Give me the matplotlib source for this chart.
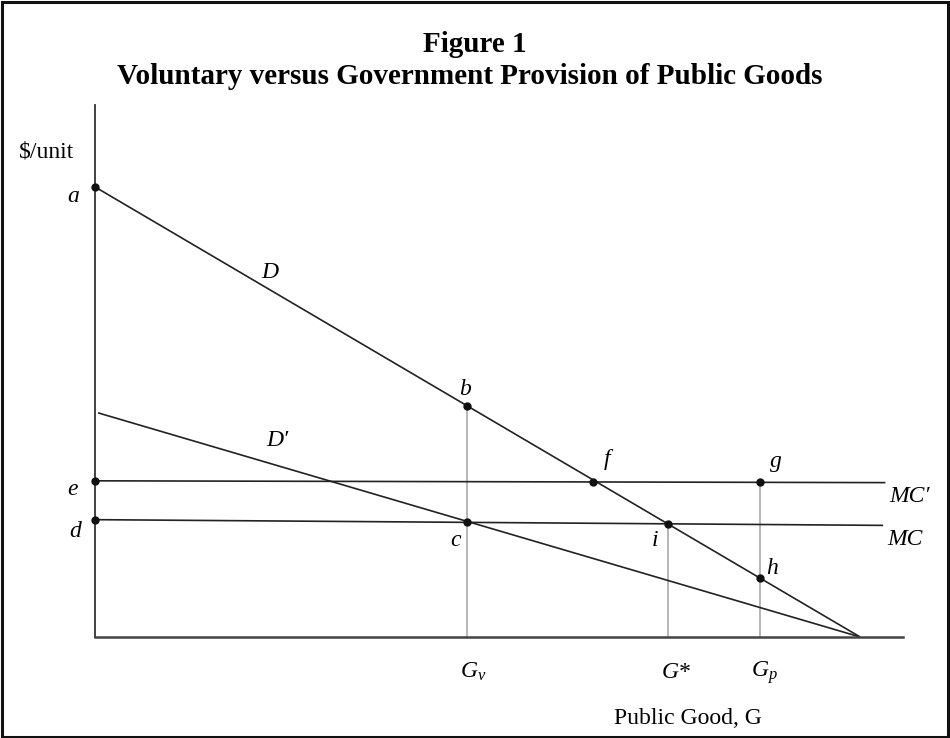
import matplotlib.pyplot as plt
import matplotlib.patches as mpatches
import numpy as np

plt.rcParams['font.family'] = ['Liberation Serif', 'DejaVu Serif']
plt.rcParams['mathtext.fontset'] = 'custom'
plt.rcParams['mathtext.rm'] = 'Liberation Serif'
plt.rcParams['mathtext.it'] = 'Liberation Serif:italic'

# demand curves: price intercept and quantity where price hits zero
D_int, D_qmax = 10.0, 100.0
Dp_int, Dp_start = 5.0, 0.4
# marginal cost lines (slightly tilted as in the scan): level at G=0, level at the end
MC_levels = [2.607, 2.48]
MCp_levels = [3.47, 3.43]
MC_end = 103.0
MCp_end = 103.3
# quantities marked on the axis
G_v, G_star, G_p = 48.6, 74.9, 86.9
x_max, y_max = 105.6, 11.82

def D(g):
    return D_int * (1 - g / D_qmax)

def Dp(g):
    return Dp_int * (1 - g / D_qmax)

def MC(g):
    return MC_levels[0] + (MC_levels[1] - MC_levels[0]) * g / MC_end

def MCp(g):
    return MCp_levels[0] + (MCp_levels[1] - MCp_levels[0]) * g / MCp_end

fig = plt.figure(figsize=(9.5, 7.38), dpi=100)
ax = fig.add_axes([95 / 950, 101 / 738, 808 / 950, 532 / 738])
ax.set_xlim(0, x_max)
ax.set_ylim(0, y_max)
for s in ['top', 'right']:
    ax.spines[s].set_visible(False)
ax.spines['left'].set_color('#333333')
ax.spines['bottom'].set_color('#444444')
ax.spines['left'].set_linewidth(1.3)
ax.spines['bottom'].set_linewidth(1.8)
ax.set_xticks([])
ax.set_yticks([])

line_kw = dict(color='#222222', lw=1.2, solid_capstyle='butt')
gray_kw = dict(color='#aaaaaa', lw=1.2)

# vertical guides
ax.plot([G_v, G_v], [0, D(G_v)], **gray_kw)
ax.plot([G_star, G_star], [0, MC(G_star)], **gray_kw)
ax.plot([G_p, G_p], [0, MCp(G_p)], **gray_kw)

# curves
ax.plot([0, D_qmax], [D(0), 0], **line_kw)
ax.plot([Dp_start, D_qmax], [Dp(Dp_start), 0], **line_kw)
ax.plot([0, MC_end], MC_levels, **line_kw)
ax.plot([0, MCp_end], MCp_levels, **line_kw)

# intersections
g_f = (D_int - MCp_levels[0]) / (D_int / D_qmax + (MCp_levels[0] - MCp_levels[1]) / MCp_end)
pts = {
    'a': (0, D(0), (-22, -10)),
    'e': (0, MCp(0), (-22, -9)),
    'd': (0, MC(0), (-20, -12)),
    'b': (G_v, D(G_v), (-2, 16)),
    'c': (G_v, MC(G_v), (-11, -18)),
    'f': (g_f, MCp(g_f), (14, 22)),
    'g': (G_p, MCp(G_p), (16, 21)),
    'h': (G_p, D(G_p), (12, 10)),
    'i': (G_star, MC(G_star), (-13, -17)),
}
lab_kw = dict(fontsize=17, style='italic', ha='center', va='center',
              textcoords='offset pixels', annotation_clip=False)
for name, (px, py, off) in pts.items():
    ax.plot(px, py, 'o', color='#111111', ms=5, clip_on=False, zorder=5)
    ax.annotate(name, (px, py), xytext=off, **lab_kw)

ax.annotate('MC\u2032', (MCp_end, MCp_levels[1]), xytext=(24, -14), **lab_kw)
ax.annotate('MC', (MC_end, MC_levels[1]), xytext=(22, -14), **lab_kw)
ax.annotate('D', (22.9, D(22.9)), xytext=(0, 17), **lab_kw)
ax.annotate('D\u2032', (23.8, Dp(23.8)), xytext=(0, 25), **lab_kw)

ax.annotate('$G_v$', (G_v, 0), xytext=(6, -35), **lab_kw)
ax.annotate('G*', (G_star, 0), xytext=(8, -35), **lab_kw)
ax.annotate('$G_p$', (G_p, 0), xytext=(4, -36), **lab_kw)

ax.annotate('$/unit', (0, y_max), xytext=(-76, -47), fontsize=17,
            ha='left', va='center', textcoords='offset pixels',
            annotation_clip=False)
fig.text(688 / 950, 1 - 718 / 738, 'Public Good, G', fontsize=17,
         ha='center', va='center')

fig.text(475 / 950, 1 - 45 / 738, 'Figure 1', fontsize=21,
         fontweight='bold', ha='center', va='center')
fig.text(470 / 950, 1 - 77 / 738,
         'Voluntary versus Government Provision of Public Goods',
         fontsize=21, fontweight='bold', ha='center', va='center')

# frame around the whole figure
fig.patches.append(mpatches.Rectangle((0.002, 0.002), 0.996, 0.995,
                                      transform=fig.transFigure, fill=False,
                                      edgecolor='#111111', lw=2.2))

fig.savefig('out.png', dpi=100)
